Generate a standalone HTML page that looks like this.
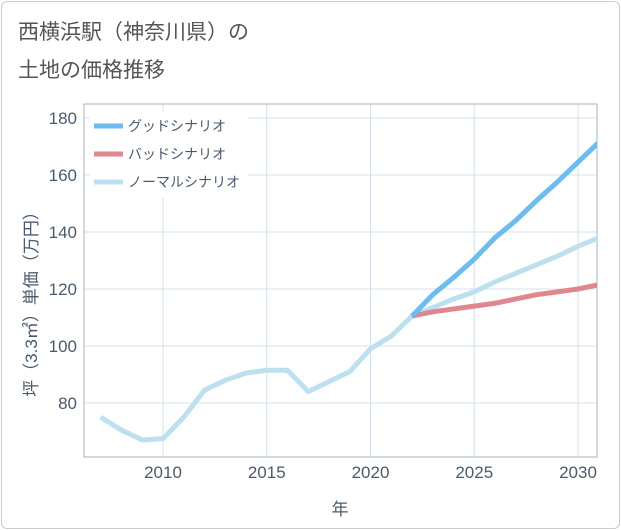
<!DOCTYPE html>
<html><head><meta charset="utf-8"><style>
body{margin:0;background:#fff;}
#wrap{position:relative;width:621px;height:530px;overflow:hidden;font-family:"Liberation Sans","Noto Sans CJK JP",sans-serif;}
#frame{position:absolute;left:1px;top:1px;width:617px;height:526px;border:1px solid #ccc;border-radius:6px;}
.title{position:absolute;left:18px;font-size:21px;color:#555;}
</style></head><body>
<div id="wrap">
<div id="frame"></div>
<div class="title" style="top:16px">西横浜駅（神奈川県）の</div>
<div class="title" style="top:54px">土地の価格推移</div>
<svg id="chart" width="621" height="530" style="position:absolute;left:0;top:0"></svg>
</div>
<script>
const years=[2007,2008,2009,2010,2011,2012,2013,2014,2015,2016,2017,2018,2019,2020,2021,2022,2023,2024,2025,2026,2027,2028,2029,2030,2031];
const normalValues=[75,70.5,67,67.5,75,84.5,88,90.5,91.5,91.5,84,87.5,91,99,103.5,110.5,113.5,116.5,119,122.5,125.5,128.5,131.5,135,138];
const futureYears=[2022,2023,2024,2025,2026,2027,2028,2029,2030,2031];
const goodValues=[110.5,118,124,130.5,138,144,151,157.5,164.5,171.5];
const badValues=[110.5,112,113,114,115,116.5,118,119,120,121.5];
const xTicks=[2010,2015,2020,2025,2030];
const yTicks=[80,100,120,140,160,180];
const L=84,R=597,T=104,B=457;
const x=y=>163+(y-2010)*20.75;
const yv=v=>403-(v-80)*2.85;
const ns="http://www.w3.org/2000/svg";
const svg=document.getElementById('chart');
function mk(tag,attrs,parent){const e=document.createElementNS(ns,tag);for(const k in attrs)e.setAttribute(k,attrs[k]);(parent||svg).appendChild(e);return e;}
const clip=mk('clipPath',{id:'pc'});mk('rect',{x:L,y:T,width:R-L,height:B-T},clip);
for(const t of xTicks){
 const g=mk('line',{x1:x(t),x2:x(t),y1:T,y2:B,stroke:'#d5e0ea','stroke-width':1});
 
 const tx=mk('text',{x:x(t),y:478,'text-anchor':'middle','font-size':17,fill:'#4a5a6e'});tx.textContent=t;
 
}
for(const t of yTicks){
 const g=mk('line',{x1:L,x2:R,y1:yv(t),y2:yv(t),stroke:'#d5e0ea','stroke-width':1});
 
 const tx=mk('text',{x:77,y:yv(t)+6,'text-anchor':'end','font-size':17,fill:'#4a5a6e'});tx.textContent=t;
 
}
const fr=mk('rect',{x:L,y:T,width:R-L,height:B-T,fill:'none',stroke:'#a9b3bd','stroke-width':1});

function line(xs,vs,color,name){
 const p=mk('polyline',{points:xs.map((yr,i)=>x(yr)+','+yv(vs[i])).join(' '),fill:'none',stroke:color,'stroke-width':5,'stroke-linejoin':'round','clip-path':'url(#pc)'});
 
}
line(years,normalValues,'#bde0ef','normal-scenario-line');
line(futureYears,badValues,'#e0868f','bad-scenario-line');
line(futureYears,goodValues,'#6cbcf0','good-scenario-line');
const lg=mk('rect',{x:90,y:112,width:158,height:86,fill:'#fff'});

const leg=[['グッドシナリオ','#6cbcf0'],['バッドシナリオ','#e0868f'],['ノーマルシナリオ','#bde0ef']];
leg.forEach((l,i)=>{
 const yy=126+i*28;
 const s=mk('line',{x1:94,x2:123,y1:yy,y2:yy,stroke:l[1],'stroke-width':5});
 
 const t=mk('text',{x:128,y:yy+5,'font-size':14,fill:'#4a5a6e'});t.textContent=l[0];
 
});
const xt=mk('text',{x:340,y:515,'text-anchor':'middle','font-size':17,fill:'#4a5a6e'});xt.textContent='年';

const yt=mk('text',{x:0,y:0,'text-anchor':'middle','font-size':17,fill:'#4a5a6e',transform:'translate(37,300) rotate(-90)'});yt.textContent='坪（3.3㎡）単価（万円）';

</script>
</body></html>
